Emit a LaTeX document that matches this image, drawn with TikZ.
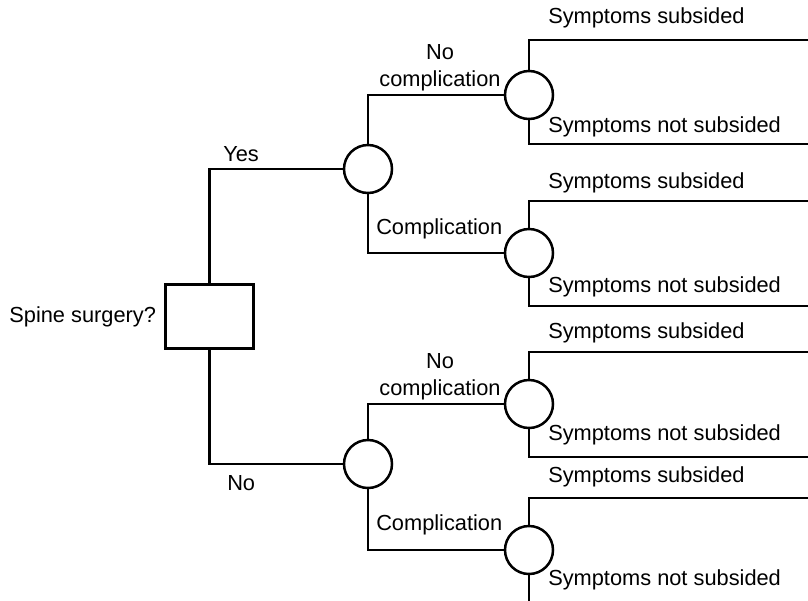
\documentclass[tikz,border=0pt]{standalone}
\usepackage{fontspec}
\setmainfont{Liberation Sans}
\usepackage{tikz}
\tikzset{
  decision/.style = {draw, rectangle, minimum width=44pt, minimum height=32pt, inner sep=0pt},
  chance/.style = {draw, circle, minimum size=24pt, inner sep=0pt, fill=white},
  lbl/.style = {inner sep=0pt, font=\fontsize{10.9}{13.5}\selectfont}
}
\usepackage{xcolor}

\begin{document}
\begin{tikzpicture}[x=0.5pt, y=-0.5pt, line width=1.25pt]

  \useasboundingbox (0,0) rectangle (808,600);
  \clip (0,0) rectangle (808,600);

  % decision and chance nodes
  \node[decision] (spine) at (209.5,316.5) {};
  \node[chance] (c1) at (368,169) {};
  \node[chance] (c2) at (368,464) {};
  \node[chance] (n1) at (529,95) {};
  \node[chance] (n2) at (529,253) {};
  \node[chance] (n3) at (529,404) {};
  \node[chance] (n4) at (529,550) {};

  \draw (spine.north) |- (c1.west);
  \draw (spine.south) |- (c2.west);
  \draw (c1.north) |- (n1.west);
  \draw (c1.south) |- (n2.west);
  \draw (c2.north) |- (n3.west);
  \draw (c2.south) |- (n4.west);

  % outcome ends, past the right edge
  \coordinate (e1) at (820,40);
  \coordinate (e2) at (820,144);
  \coordinate (e3) at (820,201);
  \coordinate (e4) at (820,306);
  \coordinate (e5) at (820,352);
  \coordinate (e6) at (820,457);
  \coordinate (e7) at (820,498);
  \coordinate (e8) at (820,602);

  \draw (n1.north) |- (e1);
  \draw (n1.south) |- (e2);
  \draw (n2.north) |- (e3);
  \draw (n2.south) |- (e4);
  \draw (n3.north) |- (e5);
  \draw (n3.south) |- (e6);
  \draw (n4.north) |- (e7);
  \draw (n4.south) |- (e8);

  % labels
  \node[lbl] (qlabel) at (spine.west) [left=3.5pt] {Spine surgery?};
  \node[lbl] (yes) at (222,154) [right] {Yes};
  \node[lbl] (no) at (226,483) [right] {No};
  \node[lbl, align=center] (nc1) at (440,92) [above] {No\\complication};
  \node[lbl, align=center] (nc2) at (440,401) [above] {No\\complication};
  \node[lbl] (cp1) at (375,229) [right] {Complication};
  \node[lbl] (cp2) at (375,525) [right] {Complication};

  \node[lbl] (s1) at (547,18) [right] {Symptoms subsided};
  \node[lbl] (s2) at (547,127) [right] {Symptoms not subsided};
  \node[lbl] (s3) at (547,183) [right] {Symptoms subsided};
  \node[lbl] (s4) at (547,287) [right] {Symptoms not subsided};
  \node[lbl] (s5) at (547,333) [right] {Symptoms subsided};
  \node[lbl] (s6) at (547,435) [right] {Symptoms not subsided};
  \node[lbl] (s7) at (547,477) [right] {Symptoms subsided};
  \node[lbl] (s8) at (547,580) [right] {Symptoms not subsided};
\end{tikzpicture}
\end{document}
